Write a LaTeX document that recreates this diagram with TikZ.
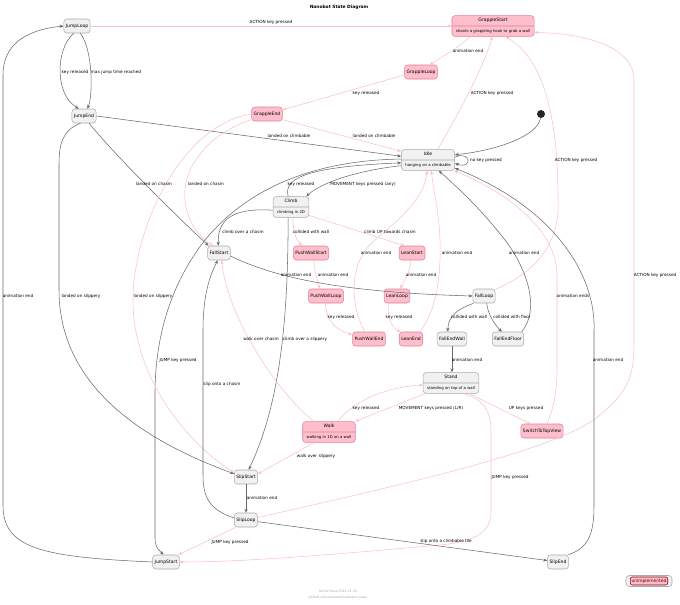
\documentclass[tikz,border=0pt]{standalone}
\usepackage{fontspec}
\setmainfont{DejaVu Sans}
\usetikzlibrary{arrows.meta, shapes.multipart}
\definecolor{boxgray}{RGB}{241,241,241}
\definecolor{rimgray}{RGB}{170,170,170}
\definecolor{boxpink}{RGB}{255,190,204}
\definecolor{rimpink}{RGB}{222,130,152}
\definecolor{linepink}{RGB}{250,192,204}
\definecolor{linedark}{RGB}{105,105,105}
\newcommand{\desc}[1]{\nodepart{two}\fontsize{2.9}{4}\selectfont\strut #1}

\begin{document}
\begin{tikzpicture}[x=0.75pt, y=-0.75pt,
    st/.style={draw=rimgray, fill=boxgray, rounded corners=2.25pt, line width=0.4pt,
        font=\fontsize{3.4}{4}\selectfont, execute at begin node=\strut,
        inner xsep=1.5pt, inner ysep=0pt, minimum height=10.5pt},
    pinkst/.style={st, draw=rimpink, fill=boxpink},
    twopart/.style={rectangle split, rectangle split parts=2, inner xsep=2.9pt,
        inner ysep=1.7pt, minimum height=0pt},
    done/.style={draw=linedark, line width=0.4pt, -{Stealth[length=3pt, width=2.4pt]}},
    todo/.style={draw=linepink, line width=0.4pt, -{Stealth[length=3pt, width=2.4pt]}},
    lbl/.style={font=\fontsize{3.15}{4}\selectfont, inner sep=0pt}]

    \path[use as bounding box, fill=white] (0,0) rectangle (680,604);

    \node[font=\bfseries\fontsize{3.3}{4}\selectfont] (title) at (339,7) {Nanobot State Diagram};

    \node[st] (JumpLoop) at (77,26) {JumpLoop};
    \node[st] (JumpEnd) at (84,116) {JumpEnd};
    \node[pinkst, twopart] (GrappleStart) at (493,26) {GrappleStart\desc{shoots a grappling hook to grab a wall}};
    \node[pinkst] (GrappleLoop) at (421,72) {GrappleLoop};
    \node[pinkst] (GrappleEnd) at (267,114) {GrappleEnd};
    \node[st, twopart] (Idle) at (428,160) {Idle\desc{hanging on a climbable}};
    \node[circle, fill=black!85, inner sep=0pt, minimum size=6pt] (init) at (541,114) {};
    \node[st, twopart] (Climb) at (291,207) {Climb\desc{climbing in 2D}};
    \node[st] (FallStart) at (219,253) {FallStart};
    \node[pinkst] (PushWallStart) at (311,253) {PushWallStart};
    \node[pinkst] (LeanStart) at (412,253) {LeanStart};
    \node[pinkst] (PushWallLoop) at (326,296) {PushWallLoop};
    \node[pinkst] (LeanLoop) at (397,296) {LeanLoop};
    \node[pinkst] (PushWallEnd) at (369,339) {PushWallEnd};
    \node[pinkst] (LeanEnd) at (411,339) {LeanEnd};
    \node[st] (FallLoop) at (484,296) {FallLoop};
    \node[st] (FallEndWall) at (452,339) {FallEndWall};
    \node[st] (FallEndFloor) at (508,339) {FallEndFloor};
    \node[st, twopart] (Stand) at (451,383) {Stand\desc{standing on top of a wall}};
    \node[pinkst, twopart] (Walk) at (329,432) {Walk\desc{walking in 1D on a wall}};
    \node[pinkst] (SwitchToTopView) at (542,431) {SwitchToTopView};
    \node[st] (SlipStart) at (246,477) {SlipStart};
    \node[st] (SlipLoop) at (246,520) {SlipLoop};
    \node[st] (JumpStart) at (166,562) {JumpStart};
    \node[st] (SlipEnd) at (558,562) {SlipEnd};

    % jumping
    \draw[done] (JumpLoop.-115) .. controls (55,50) and (55,95) .. (JumpEnd.125);
    \draw[done] (JumpLoop.-65) .. controls (93,50) and (93,95) .. (JumpEnd.65);
    \draw[done] (JumpEnd.east) -- (Idle.172);
    \draw[done] (JumpEnd.-55) .. controls (115,155) and (170,210) .. (FallStart.145);
    \draw[done] (JumpEnd.-115) .. controls (62,130) and (59,145) .. (59,165) -- (59,290) .. controls (59,400) and (170,450) .. (SlipStart.165);
    \draw[done] (JumpStart.west) .. controls (40,557) and (3,548) .. (3,505) -- (3,75) .. controls (3,45) and (25,30) .. (JumpLoop.west);
    \draw[todo] (JumpLoop.east) -- (GrappleStart.west);
    \draw[done] (Idle.178) .. controls (320,160) and (250,185) .. (205,240) .. controls (180,272) and (156,320) .. (155,390) -- (155,538) .. controls (155,548) and (160,551) .. (JumpStart.110);
    \draw[todo] (SlipLoop.-145) -- (JumpStart.30);
    \draw[todo] (Stand.-40) .. controls (485,400) and (491,412) .. (491,432) -- (491,512) .. controls (491,535) and (470,542) .. (440,545) .. controls (350,553) and (250,562) .. (JumpStart.east);

    % grappling
    \draw[todo] (GrappleStart.-155) .. controls (462,45) and (445,55) .. (GrappleLoop.40);
    \draw[todo] (GrappleLoop.-170) -- (GrappleEnd.15);
    \draw[todo] (GrappleEnd.-20) -- (Idle.162);
    \draw[todo] (GrappleEnd.-160) .. controls (205,135) and (182,170) .. (185,200) .. controls (187,222) and (200,238) .. (FallStart.128);
    \draw[todo] (GrappleEnd.west) .. controls (180,125) and (133,230) .. (133,300) .. controls (133,380) and (190,445) .. (SlipStart.160);
    \draw[todo] (Idle.48) .. controls (455,120) and (485,65) .. (GrappleStart.-95);
    \draw[todo] (FallLoop.30) .. controls (540,270) and (560,240) .. (558,200) .. controls (558,120) and (545,60) .. (GrappleStart.-40);
    \draw[todo] (SlipLoop.12) .. controls (400,485) and (560,450) .. (600,415) .. controls (630,390) and (634,375) .. (634,340) -- (634,80) .. controls (634,45) and (580,33) .. (GrappleStart.-9);

    % idle and climbing
    \draw[done] (init) .. controls (538,135) and (500,150) .. (Idle.11);
    \draw[done] (Idle.6) .. controls (471,150) and (473,170) .. (Idle.-7);
    \draw[done] (Idle.-168) .. controls (360,170) and (322,182) .. (Climb.35);
    \draw[done] (Climb.105) .. controls (284,180) and (300,167) .. (Idle.-174);
    \draw[done] (Climb.-170) .. controls (240,208) and (217,215) .. (FallStart.95);
    \draw[done] (Climb.-105) .. controls (288,310) and (282,400) .. (SlipStart.70);
    \draw[todo] (Climb.-80) .. controls (293,232) and (296,240) .. (PushWallStart.140);
    \draw[todo] (Climb.-25) -- (LeanStart.135);
    \draw[todo] (PushWallStart.-70) .. controls (315,275) and (318,282) .. (PushWallLoop.130);
    \draw[todo] (LeanStart.-100) .. controls (410,275) and (403,282) .. (LeanLoop.65);
    \draw[todo] (PushWallLoop.-95) .. controls (326,320) and (335,330) .. (PushWallEnd.165);
    \draw[todo] (LeanLoop.-140) .. controls (387,318) and (392,328) .. (LeanEnd.145);
    \draw[todo] (PushWallEnd.120) .. controls (350,305) and (348,262) .. (375,240) .. controls (405,215) and (425,195) .. (Idle.-95);
    \draw[todo] (LeanEnd.40) .. controls (438,310) and (441,270) .. (440,240) .. controls (439,210) and (433,190) .. (Idle.-72);

    % falling and slipping
    \draw[done] (FallStart.-15) .. controls (270,275) and (330,292) .. (FallLoop.west);
    \draw[done] (FallLoop.-145) .. controls (460,308) and (448,315) .. (FallEndWall.120);
    \draw[done] (FallLoop.-70) .. controls (488,315) and (495,325) .. (FallEndFloor.130);
    \draw[done] (FallEndFloor.28) .. controls (540,310) and (528,270) .. (505,240) .. controls (482,210) and (455,185) .. (Idle.-45);
    \draw[done] (FallEndWall.south) -- (FallEndWall.south |- Stand.north);
    \draw[done] (SlipLoop.170) .. controls (210,510) and (203,498) .. (203,475) -- (203,330) .. controls (203,295) and (210,275) .. (FallStart.-100);
    \draw[done] (SlipStart.south) -- (SlipLoop.north);
    \draw[done] (SlipLoop.-8) -- (SlipEnd.172);
    \draw[done] (SlipEnd.35) .. controls (588,548) and (594,535) .. (594,505) -- (594,330) .. controls (596,280) and (560,210) .. (Idle.-17);

    % standing and walking
    \draw[todo] (Stand.-158) -- (Walk.22);
    \draw[todo] (Walk.50) .. controls (352,402) and (385,387) .. (Stand.-176);
    \draw[todo] (Stand.-30) -- (SwitchToTopView.148);
    \draw[todo] (SwitchToTopView.56) .. controls (555,405) and (557,390) .. (557,365) -- (557,275) .. controls (556,225) and (500,190) .. (Idle.-22);
    \draw[todo] (Walk.145) .. controls (280,395) and (228,320) .. (FallStart.-70);
    \draw[todo] (Walk.-145) -- (SlipStart.15);

    \node[lbl] (tJumpGrapple) at (271,22) {ACTION key pressed};
    \node[lbl] (tGrappleAnim) at (468,51) {animation end};
    \node[lbl] (tGrappleKey) at (366,93) {key released};
    \node[lbl] (tIdleGrapple) at (492,93) {ACTION key pressed};
    \node[lbl] (tJumpKey) at (75,72) {key released};
    \node[lbl] (tJumpMax) at (116,72) {max jump time reached};
    \node[lbl] (tJumpIdle) at (289,136) {landed on climbable};
    \node[lbl] (tGrappleIdle) at (374,136) {landed on climbable};
    \node[lbl] (tIdleSelf) at (486,160) {no key pressed};
    \node[lbl] (tFallGrapple) at (576,160) {ACTION key pressed};
    \node[lbl] (tJumpChasm) at (154,184) {landed on chasm};
    \node[lbl] (tGrappleChasm) at (206,184) {landed on chasm};
    \node[lbl] (tClimbKey) at (301,184) {key released};
    \node[lbl] (tIdleMove) at (363,184) {MOVEMENT keys pressed (any)};
    \node[lbl] (tClimbChasm) at (243,232) {climb over a chasm};
    \node[lbl] (tClimbWall) at (311,232) {collided with wall};
    \node[lbl] (tClimbUp) at (390,232) {climb UP towards chasm};
    \node[lbl] (tPushIdle) at (376,253) {animation end};
    \node[lbl] (tLeanIdle) at (457,253) {animation end};
    \node[lbl] (tFloorIdle) at (524,253) {animation end};
    \node[lbl] (tFallAnim) at (296,275) {animation end};
    \node[lbl] (tPushAnim) at (333,275) {animation end};
    \node[lbl] (tLeanAnim) at (421,275) {animation end};
    \node[lbl] (tSlipGrapple) at (655,275) {ACTION key pressed};
    \node[lbl] (tJumpAnim) at (18,296) {animation end};
    \node[lbl] (tJumpSlip) at (81,296) {landed on slippery};
    \node[lbl] (tGrappleSlip) at (153,296) {landed on slippery};
    \node[lbl] (tTopIdle) at (573,296) {animation ends};
    \node[lbl] (tPushKey) at (341,317) {key released};
    \node[lbl] (tLeanKey) at (399,317) {key released};
    \node[lbl] (tFallWall) at (469,317) {collided with wall};
    \node[lbl] (tFallFloor) at (512,317) {collided with floor};
    \node[lbl] (tWalkChasm) at (261,339) {walk over chasm};
    \node[lbl] (tClimbSlip) at (305,339) {climb over a slippery};
    \node[lbl] (tIdleJump) at (178,360) {JUMP key pressed};
    \node[lbl] (tWallAnim) at (467,360) {animation end};
    \node[lbl] (tSlipIdle) at (608,360) {animation end};
    \node[lbl] (tSlipChasm) at (222,384) {slip onto a chasm};
    \node[lbl] (tWalkKey) at (366,408) {key released};
    \node[lbl] (tStandMove) at (431,408) {MOVEMENT keys pressed (L/R)};
    \node[lbl] (tStandUp) at (526,408) {UP keys pressed};
    \node[lbl] (tWalkSlip) at (316,456) {walk over slippery};
    \node[lbl] (tStandJump) at (510,477) {JUMP key pressed};
    \node[lbl] (tSlipAnim) at (262,498) {animation end};
    \node[lbl] (tSlipJump) at (230,542) {JUMP key pressed};
    \node[lbl] (tSlipTile) at (446,541) {slip onto a climbable tile};

    \node[draw=rimgray, fill=boxgray, rounded corners=2.5pt, minimum width=34.5pt, minimum height=8.25pt] (legend) at (649,581) {};
    \node[pinkst, draw=red!55!black, text=red!35!black, minimum height=6pt, inner xsep=1pt, font=\fontsize{3.3}{4}\selectfont, rounded corners=1.5pt] (unimpl) at (legend.center) {unimplemented};

    \node[text=black!35, align=center, font=\fontsize{2.4}{5}\selectfont] (footer) at (338,594.5) {Ishi te Roca 2023-11-13\\github.com/nemoteritu/project-scale};
\end{tikzpicture}
\end{document}
